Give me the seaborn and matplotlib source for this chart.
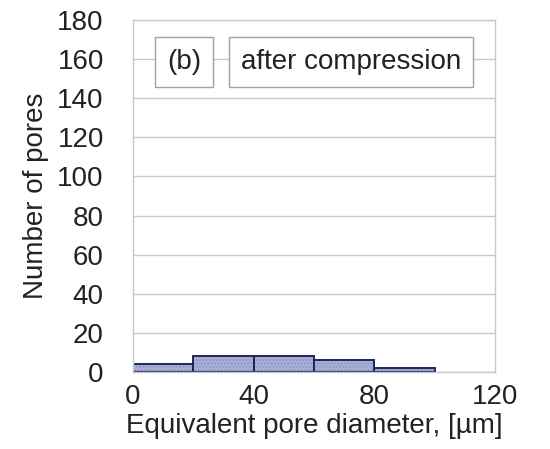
import numpy as np
import matplotlib
matplotlib.use("Agg")
import matplotlib.pyplot as plt
import seaborn as sns

# Histogram of pore sizes after compression
bin_edges = [0, 20, 40, 60, 80, 100]
pore_counts = [4, 8, 8, 6, 2]
x_ticks = [0, 40, 80, 120]
y_ticks = [0, 20, 40, 60, 80, 100, 120, 140, 160, 180]

bin_centers = [(a + b) / 2 for a, b in zip(bin_edges[:-1], bin_edges[1:])]

sns.set_style("white")
plt.rcParams['font.family'] = ['Liberation Sans', 'DejaVu Sans']

fig = plt.figure(figsize=(5.5, 4.49), dpi=100)
ax = fig.add_axes([133 / 550, 1 - 372 / 449, (495 - 133) / 550, (372 - 20) / 449])

# filled, dotted bars
sns.histplot(x=bin_centers, weights=pore_counts, bins=bin_edges, ax=ax,
             color='#a9b1d9', alpha=1, edgecolor='#8a93c4', linewidth=0,
             hatch='.....')
# dark outlines
sns.histplot(x=bin_centers, weights=pore_counts, bins=bin_edges, ax=ax,
             fill=False, color='#1e2858', edgecolor='#1e2858', linewidth=1.4)

ax.set_xlim(0, 120)
ax.set_ylim(0, 180)
ax.set_xticks(x_ticks)
ax.set_yticks(y_ticks)
ax.tick_params(axis='both', length=0, labelsize=20, colors='#222222')
ax.tick_params(axis='x', pad=9)
ax.tick_params(axis='y', pad=21)
ax.yaxis.grid(True, color='#c8c8c8', linewidth=1)
ax.set_axisbelow(True)
for s in ax.spines.values():
    s.set_color('#c8c8c8')
    s.set_linewidth(1)

ax.set_xlabel('Equivalent pore diameter, [µm]', fontsize=20, color='#222222', labelpad=2)
ax.set_ylabel('Number of pores', fontsize=20, color='#222222', labelpad=6)

box = dict(boxstyle='square,pad=0.42', facecolor='white', edgecolor='#a0a0a0', linewidth=1)
ax.text(184 / 550, 1 - 62 / 449, '(b)', transform=fig.transFigure, ha='center', va='center',
        fontsize=20, color='#222222', bbox=box)
ax.text(351 / 550, 1 - 62 / 449, 'after compression', transform=fig.transFigure, ha='center',
        va='center', fontsize=20, color='#222222', bbox=box)

fig.savefig('out.png', dpi=100)
